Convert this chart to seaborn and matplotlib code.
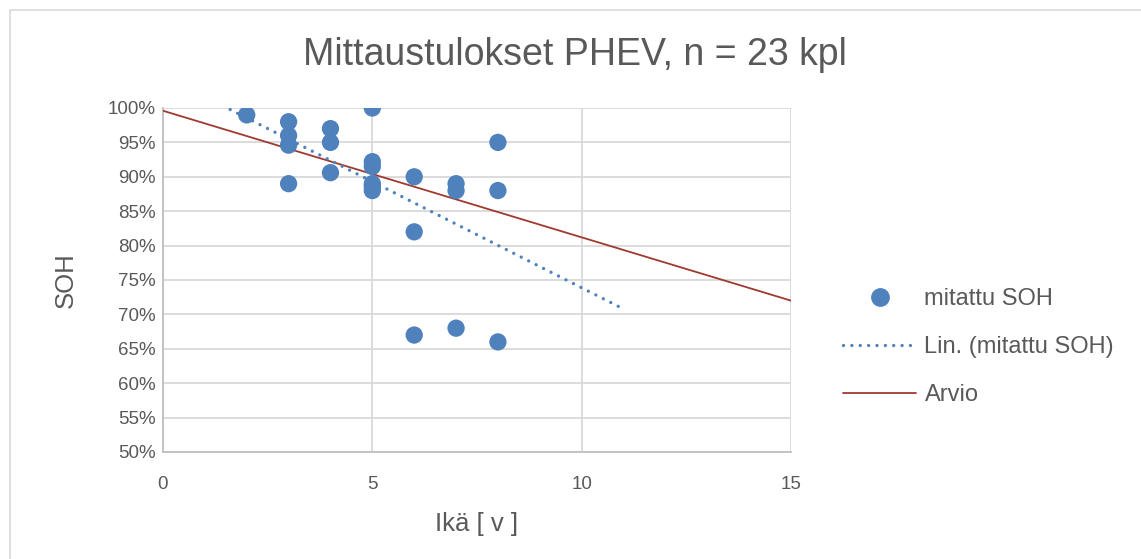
import numpy as np
import matplotlib.pyplot as plt
import seaborn as sns
from matplotlib.ticker import PercentFormatter
from matplotlib.lines import Line2D
from matplotlib.patches import Rectangle

# measured SOH (%) vs age (years)
ika = [2, 3, 3, 3, 3, 4, 4, 4, 5, 5, 5, 5, 5, 5, 6, 6, 6, 7, 7, 7, 8, 8, 8]
soh = [99, 98, 96, 94.6, 89, 97, 95, 90.6, 100, 92.2, 91.5, 89, 88.6, 88,
       90, 82, 67, 89, 88, 68, 95, 88, 66]

# estimate line
arvio_x = [0, 15]
arvio_y = [99.6, 72]

trend_x = [0, 11]

blue = '#4f81bd'
red = '#a0392f'
grey_txt = '#595959'

sns.set_style('white')
plt.rcParams['font.family'] = ['Liberation Sans', 'DejaVu Sans']

fig = plt.figure(figsize=(11.41, 5.59), dpi=100)
ax = fig.add_axes([163/1141, 1 - 452/559, (791-163)/1141, (452-108)/559])

dots = (0, (0.01, 2.5))

# linear trend of measured values
k, b = np.polyfit(ika, soh, 1)
tx = np.array(trend_x, dtype=float)
sns.lineplot(x=tx, y=k*tx + b, ax=ax, color=blue, lw=2.4,
             linestyle=dots, dash_capstyle='round', zorder=4)
sns.lineplot(x=arvio_x, y=arvio_y, ax=ax, color=red, lw=1.3, zorder=3)
sns.scatterplot(x=ika, y=soh, ax=ax, color=blue, s=155, edgecolor='none', zorder=5)

ax.set_xlim(0, 15)
ax.set_ylim(50, 100)
ax.set_xticks([0, 5, 10, 15])
ax.set_yticks(np.arange(50, 101, 5))
ax.yaxis.set_major_formatter(PercentFormatter(xmax=100, decimals=0))
ax.grid(True, color='#d9d9d9', lw=1.3)
ax.set_axisbelow(True)
for s in ['top', 'right']:
    ax.spines[s].set_visible(False)
for s in ['left', 'bottom']:
    ax.spines[s].set_color('#bfbfbf')
    ax.spines[s].set_linewidth(1.3)
ax.tick_params(length=0, labelsize=13.5, colors=grey_txt)
ax.tick_params(axis='x', pad=17)
ax.tick_params(axis='y', pad=5)

ax.set_xlabel('Ikä [ v ]', fontsize=18.5, color=grey_txt, labelpad=14)
ax.set_ylabel('SOH', fontsize=18.5, color=grey_txt, labelpad=22)
fig.text(575/1141, 1 - 55/559, 'Mittaustulokset PHEV, n = 23 kpl',
         ha='center', va='center', fontsize=27, color=grey_txt)

handles = [
    Line2D([], [], marker='o', color=blue, linestyle='none', markersize=12.5),
    Line2D([], [], color=blue, lw=2.4, linestyle=dots, dash_capstyle='round'),
    Line2D([], [], color=red, lw=1.3),
]
labels = ['mitattu SOH', 'Lin. (mitattu SOH)', 'Arvio']
leg = fig.legend(handles, labels, loc='center left', bbox_to_anchor=(843/1141, 1 - 347/559),
                 frameon=False, fontsize=17, handlelength=3.1, handletextpad=0.35,
                 labelspacing=1.1, borderpad=0, borderaxespad=0)
for t in leg.get_texts():
    t.set_color(grey_txt)

fig.patches.append(Rectangle((10/1141, -0.01), 1.0, 1 - 10/559 + 0.01, transform=fig.transFigure,
                             fill=False, edgecolor='#d9d9d9', lw=1.2))

fig.savefig('out.png', dpi=100)
